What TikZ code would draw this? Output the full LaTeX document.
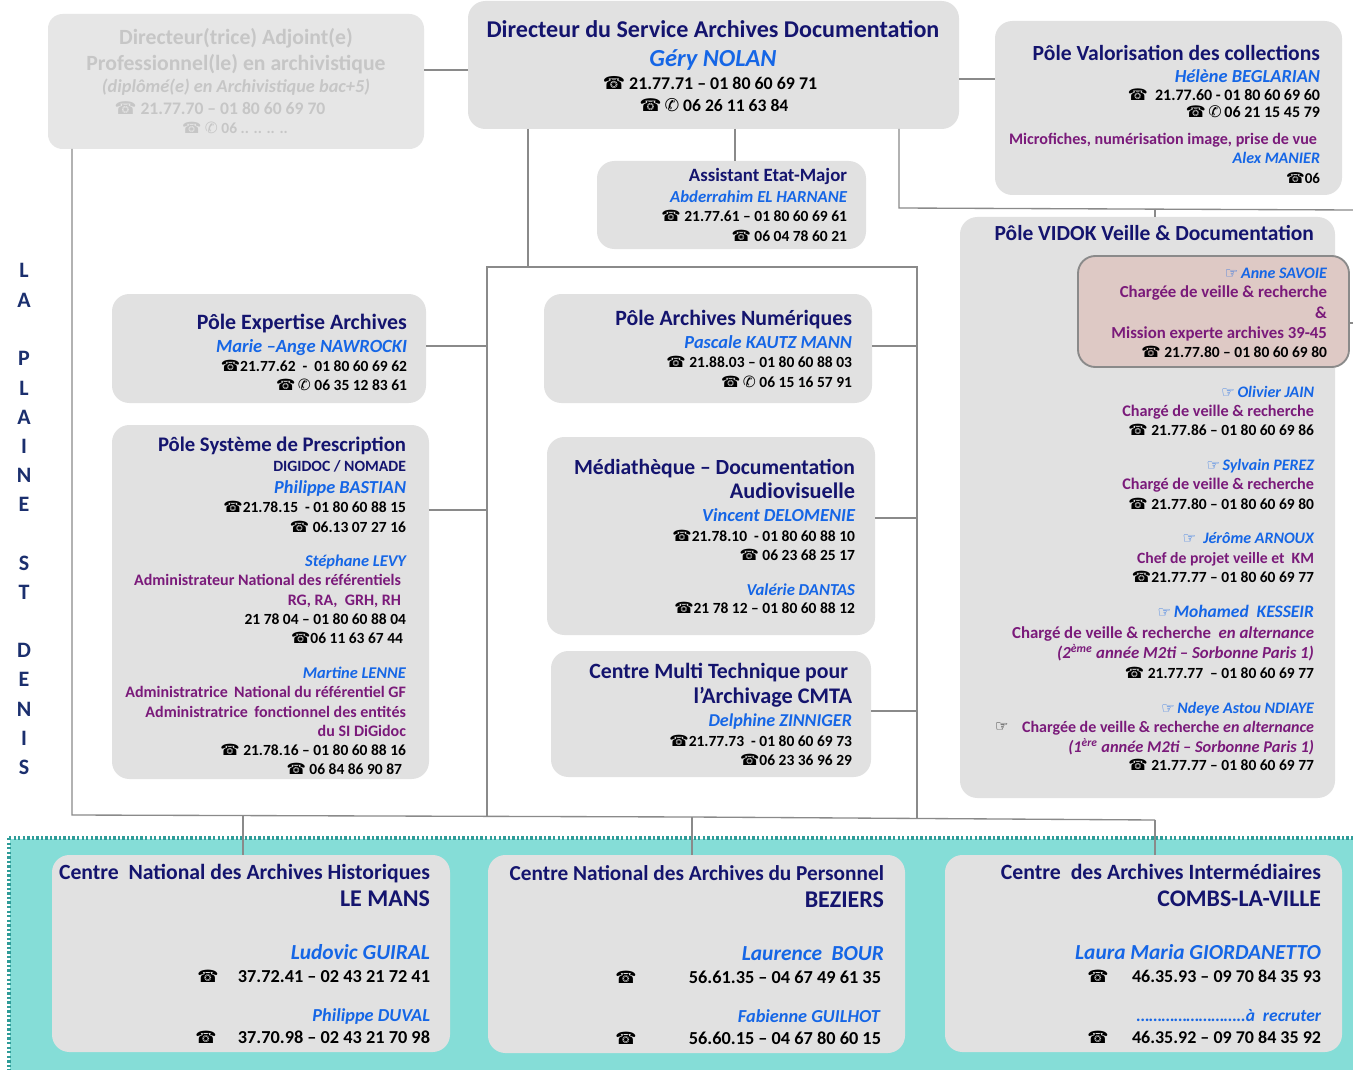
\documentclass[tikz,border=0pt]{standalone}
\usepackage{fontspec}
\setmainfont{Carlito}
\newfontfamily\dvfont{DejaVu Sans}
\usetikzlibrary{positioning}
\definecolor{navy}{HTML}{14146E}
\definecolor{nameblue}{HTML}{1566E6}
\definecolor{purp}{HTML}{7A1A7A}
\definecolor{ghost}{HTML}{C6C6C6}
\definecolor{boxgray}{HTML}{E1E1E1}
\definecolor{ghostbox}{HTML}{E6E6E6}
\definecolor{rose}{HTML}{DEC9C5}
\definecolor{teal1}{HTML}{85DDD7}
\definecolor{teal2}{HTML}{2E9C98}
\definecolor{wire}{HTML}{8A8A8A}
\definecolor{sideblue}{HTML}{1B2F6E}
\newcommand\fpx[1]{\fontsize{\fpeval{0.75*#1}}{\fpeval{0.9*#1}}\selectfont}
\newcommand\ph{{\dvfont ☎}}
\newcommand\mob{{\dvfont ✆}}
\newcommand\fin{{\dvfont\fpx{15}☞}}
\newcounter{tln}
% \tl[anchor]{style}{x}{y}{px size}{text}
\newcommand\tl[6][base east]{\stepcounter{tln}\node[#2,anchor=#1] (tl\arabic{tln}) at (#3,#4) {\fpx{#5}#6};}
\newcommand\bx[6]{\pgfmathsetmacro\bw{(#5-#3)*0.75}\pgfmathsetmacro\bh{(#6-#4)*0.75}%
  \node[#2,minimum width=\bw pt,minimum height=\bh pt] (#1) at ({(#3+#5)/2},{(#4+#6)/2}) {};}
\tikzset{
  x=0.75pt,y=-0.75pt,
  every node/.style={inner sep=0pt,outer sep=0pt},
  card/.style={fill=boxgray,rounded corners=13pt,draw=none},
  ghostcard/.style={fill=ghostbox,rounded corners=11pt,draw=none},
  rosecard/.style={fill=rose,draw=wire,line width=1.4pt,rounded corners=13pt},
  band/.style={draw=teal2,line width=2.6pt,dash pattern=on 1.8pt off 1.6pt},
  wirel/.style={draw=wire,line width=1pt},
  tt/.style={text=navy,font=\bfseries},
  nm/.style={text=nameblue,font=\bfseries\itshape},
  pu/.style={text=purp,font=\bfseries},
  pi/.style={text=purp,font=\bfseries\itshape},
  ki/.style={text=black,font=\bfseries},
  gh/.style={text=ghost,font=\bfseries},
  ghi/.style={text=ghost,font=\bfseries\itshape},
  side/.style={text=sideblue,font=\bfseries},
}
\begin{document}
\begin{tikzpicture}
\useasboundingbox (0,0) rectangle (1353,1070);
\fill[white] (0,0) rectangle (1353,1070);
% band
\fill[teal1] (10,839) rectangle (1353,1070);
\draw[band] (9,838) -- (1353,838) (9,838) -- (9,1070);
% boxes
\bx{adj}{ghostcard}{48}{14}{424}{149}
\bx{dir}{card}{468}{1}{959}{129}
\bx{valo}{card}{995}{21}{1342}{195}
\bx{asst}{card}{597}{161}{866}{249}
\bx{vidok}{card}{960}{217}{1335}{798}
\bx{savoie}{rosecard}{1078}{256}{1349}{367}
\bx{exper}{card}{112}{294}{426}{403}
\bx{presc}{card}{112}{425}{429}{779}
\bx{numer}{card}{544}{294}{872}{403}
\bx{media}{card}{547}{437}{875}{635}
\bx{cmta}{card}{551}{651}{871}{777}
\bx{lemans}{card}{52}{855}{450}{1052}
\bx{beziers}{card}{488}{855}{905}{1053}
\bx{combs}{card}{945}{855}{1342}{1052}
% connectors
\coordinate (busL) at (72,815);
\coordinate (busM) at (692,817);
\coordinate (busR) at (1155,820);
\coordinate (topL) at (487,267);
\coordinate (topR) at (917,267);
\coordinate (midB) at (487,816);
\coordinate (rightB) at (917,818);
\coordinate (veilleL) at (899,208);
\coordinate (veilleR) at (1353,210);
\coordinate (stub) at (1353,323);
\draw[wirel] (adj.east |- 0,70) -- (dir.west |- 0,70);
\draw[wirel] (adj.south -| 72,0) -- (busL) -- (busM) -- (busR);
\draw[wirel] (busR) -- (combs.north -| busR);
\draw[wirel] (busM) -- (beziers.north -| busM);
\draw[wirel] (243,816) -- (lemans.north -| 243,0);
\draw[wirel] (dir.south -| 528,0) -- (528,267);
\draw[wirel] (midB) -- (topL) -- (topR) -- (rightB);
\draw[wirel] (exper.east |- 0,346) -- (topL |- 0,346);
\draw[wirel] (presc.east |- 0,510) -- (topL |- 0,510);
\draw[wirel] (numer.east |- 0,346) -- (topR |- 0,346);
\draw[wirel] (media.east |- 0,518) -- (topR |- 0,518);
\draw[wirel] (cmta.east |- 0,711) -- (topR |- 0,711);
\draw[wirel] (dir.south -| 735,0) -- (asst.north -| 735,0);
\draw[wirel] (dir.east |- 0,79) -- (valo.west |- 0,79);
\draw[wirel] (dir.south -| veilleL) -- (veilleL) -- (veilleR);
\draw[wirel] (1155,209) -- (vidok.north -| 1155,0);
\draw[wirel] (savoie.east |- stub) -- (stub);
% adjoint
\tl[base]{gh}{236}{45}{21.7}{Directeur(trice) Adjoint(e)}
\tl[base]{gh}{236}{71}{21.7}{Professionnel(le) en archivistique}
\tl[base]{ghi}{236}{93}{18.3}{(diplômé(e) en Archivistique bac+5)}
\tl[base]{gh}{220}{115}{17.6}{\ph\ 21.77.70 – 01 80 60 69 70}
\tl[base]{gh}{235}{134}{15.5}{\ph\ \mob\ 06 .. .. .. ..}
% director
\tl[base]{tt}{713}{38}{24.1}{Directeur du Service Archives Documentation}
\tl[base]{nm}{713}{67}{24.5}{Géry NOLAN}
\tl[base]{ki}{710}{90}{17.9}{\ph\ 21.77.71 – 01 80 60 69 71}
\tl[base]{ki}{714}{112}{17.6}{\ph\,\mob\ 06 26 11 63 84}
% valorisation
\tl{tt}{1320}{61}{21.6}{Pôle Valorisation des collections}
\tl{nm}{1320}{83}{18.4}{Hélène BEGLARIAN}
\tl{ki}{1320}{101}{16}{\ph\ \ 21.77.60 - 01 80 60 69 60}
\tl{ki}{1320}{118}{16}{\ph\,\mob\,06 21 15 45 79}
\tl{pu}{1317}{145}{16.1}{Microfiches, numérisation image, prise de vue}
\tl{nm}{1320}{164}{16}{Alex MANIER}
\tl{ki}{1320}{184}{15}{\ph 06}
% assistant
\tl{tt}{847}{182}{18.8}{Assistant Etat-Major}
\tl{nm}{847}{203}{16.8}{Abderrahim EL HARNANE}
\tl{ki}{847}{222}{15.5}{\ph\ 21.77.61 – 01 80 60 69 61}
\tl{ki}{847}{242}{15.5}{\ph\ 06 04 78 60 21}
% vidok
\tl{tt}{1314}{240}{21.5}{Pôle VIDOK Veille \& Documentation}
\tl{nm}{1327}{278}{16}{\fin\,Anne SAVOIE}
\tl{pu}{1327}{297}{16.8}{Chargée de veille \& recherche}
\tl{pu}{1327}{318}{16.8}{\&}
\tl{pu}{1327}{338}{16.8}{Mission experte archives 39-45}
\tl{ki}{1327}{357}{15.5}{\ph\ 21.77.80 – 01 80 60 69 80}
\tl{nm}{1314}{397}{16}{\fin\,Olivier JAIN}
\tl{pu}{1314}{416}{16.2}{Chargé de veille \& recherche}
\tl{ki}{1314}{435}{15.5}{\ph\ 21.77.86 – 01 80 60 69 86}
\tl{nm}{1314}{470}{16}{\fin\,Sylvain PEREZ}
\tl{pu}{1314}{489}{16.2}{Chargé de veille \& recherche}
\tl{ki}{1314}{509}{15.5}{\ph\ 21.77.80 – 01 80 60 69 80}
\tl{nm}{1314}{543}{16}{\fin\ \ Jérôme ARNOUX}
\tl{pu}{1314}{563}{15.7}{Chef de projet veille et\ \ KM}
\tl{ki}{1314}{582}{15.5}{\ph 21.77.77 – 01 80 60 69 77}
\tl{nm}{1314}{617}{17.5}{\fin\,Mohamed\ \ KESSEIR}
\tl{pu}{1314}{638}{16.8}{Chargé de veille \& recherche\ \ \textit{en alternance}}
\tl{pi}{1314}{658}{16.8}{(2\textsuperscript{ème} année M2ti – Sorbonne Paris 1)}
\tl{ki}{1314}{678}{15.5}{\ph\ 21.77.77\ \ – 01 80 60 69 77}
\tl{nm}{1314}{713}{16}{\fin\,Ndeye Astou NDIAYE}
\tl[base west]{ki}{995}{731}{16}{\fin}
\tl{pu}{1314}{732}{16}{Chargée de veille \& recherche \textit{en alternance}}
\tl{pi}{1314}{752}{16.4}{(1\textsuperscript{ère} année M2ti – Sorbonne Paris 1)}
\tl{ki}{1314}{770}{15.5}{\ph\ 21.77.77 – 01 80 60 69 77}
% expertise
\tl{tt}{407}{329}{21.9}{Pôle Expertise Archives}
\tl{nm}{407}{352}{18.6}{Marie –Ange NAWROCKI}
\tl{ki}{407}{371}{15.5}{\ph 21.77.62\ \ -\ \ 01 80 60 69 62}
\tl{ki}{407}{390}{15.5}{\ph\,\mob\ 06 35 12 83 61}
% prescription
\tl{tt}{406}{451}{20.7}{Pôle Système de Prescription}
\tl{tt}{406}{471}{15.7}{DIGIDOC / NOMADE}
\tl{nm}{406}{493}{18.3}{Philippe BASTIAN}
\tl{ki}{406}{512}{15.5}{\ph 21.78.15\ \ - 01 80 60 88 15}
\tl{ki}{406}{532}{15.5}{\ph\ 06.13 07 27 16}
\tl{nm}{406}{566}{16.4}{Stéphane LEVY}
\tl{pu}{401}{585}{16}{Administrateur National des référentiels}
\tl{pu}{401}{605}{16}{RG, RA,\ \ GRH, RH}
\tl{ki}{406}{624}{15.5}{21 78 04 – 01 80 60 88 04}
\tl{ki}{403}{643}{15.5}{\ph 06 11 63 67 44}
\tl{nm}{406}{678}{16.4}{Martine LENNE}
\tl{pu}{406}{697}{16}{Administratrice\, National du référentiel GF}
\tl{pu}{406}{717}{16}{Administratrice\, fonctionnel des entités}
\tl{pu}{406}{736}{16}{du SI DiGidoc}
\tl{ki}{406}{755}{15.5}{\ph\ 21.78.16 – 01 80 60 88 16}
\tl{ki}{402}{774}{15.5}{\ph\ 06 84 86 90 87}
% numeriques
\tl{tt}{852}{325}{21.8}{Pôle Archives Numériques}
\tl{nm}{852}{348}{18.4}{Pascale KAUTZ MANN}
\tl{ki}{852}{367}{15.5}{\ph\ 21.88.03 – 01 80 60 88 03}
\tl{ki}{852}{387}{15.5}{\ph\,\mob\ 06 15 16 57 91}
% mediatheque
\tl{tt}{855}{474}{21.6}{Médiathèque – Documentation}
\tl{tt}{855}{498}{22.3}{Audiovisuelle}
\tl{nm}{855}{521}{18.4}{Vincent DELOMENIE}
\tl{ki}{855}{541}{15.5}{\ph 21.78.10\ \ - 01 80 60 88 10}
\tl{ki}{855}{560}{15.5}{\ph\ 06 23 68 25 17}
\tl{nm}{855}{595}{16.7}{Valérie DANTAS}
\tl{ki}{855}{613}{15.5}{\ph 21 78 12 – 01 80 60 88 12}
% cmta
\tl{tt}{848}{678}{21.8}{Centre Multi Technique pour}
\tl{tt}{852}{703}{22.3}{l’Archivage CMTA}
\tl{nm}{852}{726}{18.1}{Delphine ZINNIGER}
\tl{ki}{852}{746}{15.5}{\ph 21.77.73\ \ - 01 80 60 69 73}
\tl{ki}{852}{765}{15.5}{\ph 06 23 36 96 29}
% le mans
\tl{tt}{430}{879}{21.7}{Centre\ \ National des Archives Historiques}
\tl{tt}{430}{906}{24}{LE MANS}
\tl{nm}{430}{959}{21.4}{Ludovic GUIRAL}
\tl[base]{ki}{208}{982}{17}{\ph}
\tl{ki}{430}{982}{18.3}{37.72.41 – 02 43 21 72 41}
\tl{nm}{430}{1021}{18.3}{Philippe DUVAL}
\tl[base]{ki}{206}{1043}{17}{\ph}
\tl{ki}{430}{1043}{18.3}{37.70.98 – 02 43 21 70 98}
% beziers
\tl{tt}{884}{880}{21.3}{Centre National des Archives du Personnel}
\tl{tt}{884}{907}{24}{BEZIERS}
\tl{nm}{884}{960}{21.4}{Laurence\ \ BOUR}
\tl[base]{ki}{626}{983}{17}{\ph}
\tl{ki}{881}{983}{18.3}{56.61.35 – 04 67 49 61 35}
\tl{nm}{880}{1022}{18.3}{Fabienne GUILHOT}
\tl[base]{ki}{626}{1044}{17}{\ph}
\tl{ki}{881}{1044}{18.3}{56.60.15 – 04 67 80 60 15}
% combs
\tl{tt}{1321}{879}{21.8}{Centre\ \ des Archives Intermédiaires}
\tl{tt}{1321}{906}{23.8}{COMBS-LA-VILLE}
\tl{nm}{1321}{959}{21.4}{Laura Maria GIORDANETTO}
\tl[base]{ki}{1098}{982}{17}{\ph}
\tl{ki}{1321}{982}{18}{46.35.93 – 09 70 84 35 93}
\tl{nm}{1321}{1021}{17.5}{……………………..à\ \ recruter}
\tl[base]{ki}{1098}{1043}{17}{\ph}
\tl{ki}{1321}{1043}{18}{46.35.92 – 09 70 84 35 92}
% side letters
\tl[base]{side}{24}{277}{22}{L}
\tl[base]{side}{24}{307}{22}{A}
\tl[base]{side}{24}{365}{22}{P}
\tl[base]{side}{24}{395}{22}{L}
\tl[base]{side}{24}{424}{22}{A}
\tl[base]{side}{24}{453}{22}{I}
\tl[base]{side}{24}{482}{22}{N}
\tl[base]{side}{24}{511}{22}{E}
\tl[base]{side}{24}{570}{22}{S}
\tl[base]{side}{24}{599}{22}{T}
\tl[base]{side}{24}{657}{22}{D}
\tl[base]{side}{24}{686}{22}{E}
\tl[base]{side}{24}{716}{22}{N}
\tl[base]{side}{24}{745}{22}{I}
\tl[base]{side}{24}{774}{22}{S}
\end{tikzpicture}
\end{document}
